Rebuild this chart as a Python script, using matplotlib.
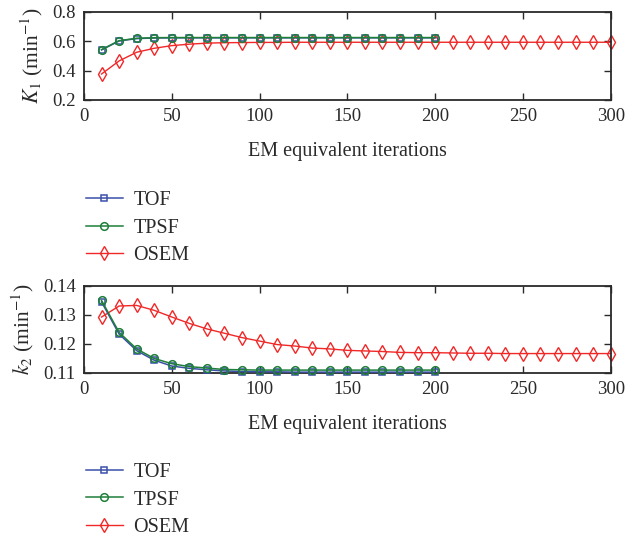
import matplotlib
matplotlib.use('Agg')
import matplotlib.pyplot as plt
import numpy as np

plt.rcParams['font.family'] = ['Liberation Serif', 'DejaVu Serif']
plt.rcParams['mathtext.fontset'] = 'stix'

# iteration grid
iters_short = list(range(10, 201, 10))
iters_long = list(range(10, 301, 10))

# K1 estimates
k1_tof = [0.541, 0.602, 0.618, 0.622, 0.623, 0.623, 0.623, 0.623, 0.623, 0.623,
          0.623, 0.623, 0.623, 0.623, 0.623, 0.623, 0.623, 0.623, 0.623, 0.623]
k1_tpsf = [0.543, 0.604, 0.620, 0.624, 0.625, 0.625, 0.625, 0.625, 0.625, 0.625,
           0.625, 0.625, 0.625, 0.625, 0.625, 0.625, 0.625, 0.625, 0.625, 0.625]
k1_osem = [0.377, 0.466, 0.525, 0.552, 0.570, 0.580, 0.587, 0.590, 0.591, 0.592,
           0.592, 0.593, 0.593, 0.593, 0.593, 0.593, 0.593, 0.593, 0.593, 0.593,
           0.593, 0.593, 0.593, 0.593, 0.593, 0.593, 0.593, 0.593, 0.593, 0.593]

# k2 estimates
k2_tof = [0.1345, 0.1234, 0.1177, 0.1144, 0.1124, 0.1116, 0.1111, 0.1107, 0.1105, 0.1104,
          0.1104, 0.1103, 0.1103, 0.1103, 0.1103, 0.1103, 0.1103, 0.1103, 0.1103, 0.1103]
k2_tpsf = [0.1350, 0.1240, 0.1183, 0.1150, 0.1132, 0.1122, 0.1117, 0.1112, 0.1111, 0.1110,
           0.1110, 0.1110, 0.1110, 0.1110, 0.1110, 0.1110, 0.1110, 0.1110, 0.1110, 0.1110]
k2_osem = [0.1293, 0.1331, 0.1333, 0.1316, 0.1293, 0.1271, 0.1252, 0.1237, 0.1222, 0.1210,
           0.1198, 0.1193, 0.1186, 0.1183, 0.1178, 0.1176, 0.1174, 0.1171, 0.1170, 0.1170,
           0.1169, 0.1168, 0.1168, 0.1167, 0.1167, 0.1167, 0.1167, 0.1167, 0.1167, 0.1167]

C_TOF = '#3a4fa8'
C_TPSF = '#1f7f3a'
C_OSEM = '#f02828'
TXT = '#2a2a2a'
FS_TICK = 13.5
FS_LAB = 14.5


def draw(ax, tof, tpsf, osem, ylim, yticks, yfmt, ylabel):
    ax.plot(iters_short, tof, color=C_TOF, lw=1.1, marker='s', ms=5,
            mfc='none', mec=C_TOF, mew=1.1, label='TOF', clip_on=False, zorder=3)
    ax.plot(iters_short, tpsf, color=C_TPSF, lw=1.1, marker='o', ms=5.5,
            mfc='none', mec=C_TPSF, mew=1.1, label='TPSF', clip_on=False, zorder=4)
    ax.plot(iters_long, osem, color=C_OSEM, lw=1.0, marker='d', ms=7,
            mfc='none', mec=C_OSEM, mew=1.0, label='OSEM', clip_on=False, zorder=2)
    ax.set_xlim(0, 300)
    ax.set_ylim(*ylim)
    ax.set_xticks([0, 50, 100, 150, 200, 250, 300])
    ax.set_yticks(yticks)
    ax.set_yticklabels([yfmt.format(v) for v in yticks])
    ax.tick_params(direction='in', top=True, right=True, labelsize=FS_TICK, pad=6,
                   length=5, width=1, colors=TXT, labelcolor=TXT)
    for s in ax.spines.values():
        s.set_linewidth(1.3)
        s.set_color(TXT)
    ax.set_xlabel('EM equivalent iterations', fontsize=FS_LAB, color=TXT, labelpad=12)
    ax.set_ylabel(ylabel, fontsize=15.5, color=TXT, labelpad=5)
    leg = ax.legend(loc='upper left', bbox_to_anchor=(-0.011, -0.945), frameon=False,
                    fontsize=FS_LAB, handlelength=1.8, handletextpad=0.55, labelspacing=0.4,
                    borderaxespad=0)
    for t in leg.get_texts():
        t.set_color(TXT)
    return ax


fig = plt.figure(figsize=(6.27, 5.39), dpi=100)
ax1 = fig.add_axes([0.134, 0.8145, 0.840, 0.1635])
ax2 = fig.add_axes([0.134, 0.308, 0.840, 0.1614])

draw(ax1, k1_tof, k1_tpsf, k1_osem, (0.2, 0.8), [0.2, 0.4, 0.6, 0.8], '{:.1f}',
     r'$K_1$ (min$^{-1}$)')
draw(ax2, k2_tof, k2_tpsf, k2_osem, (0.11, 0.14), [0.11, 0.12, 0.13, 0.14], '{:.2f}',
     r'$k_2$ (min$^{-1}$)')

fig.savefig('out.png', dpi=100)
